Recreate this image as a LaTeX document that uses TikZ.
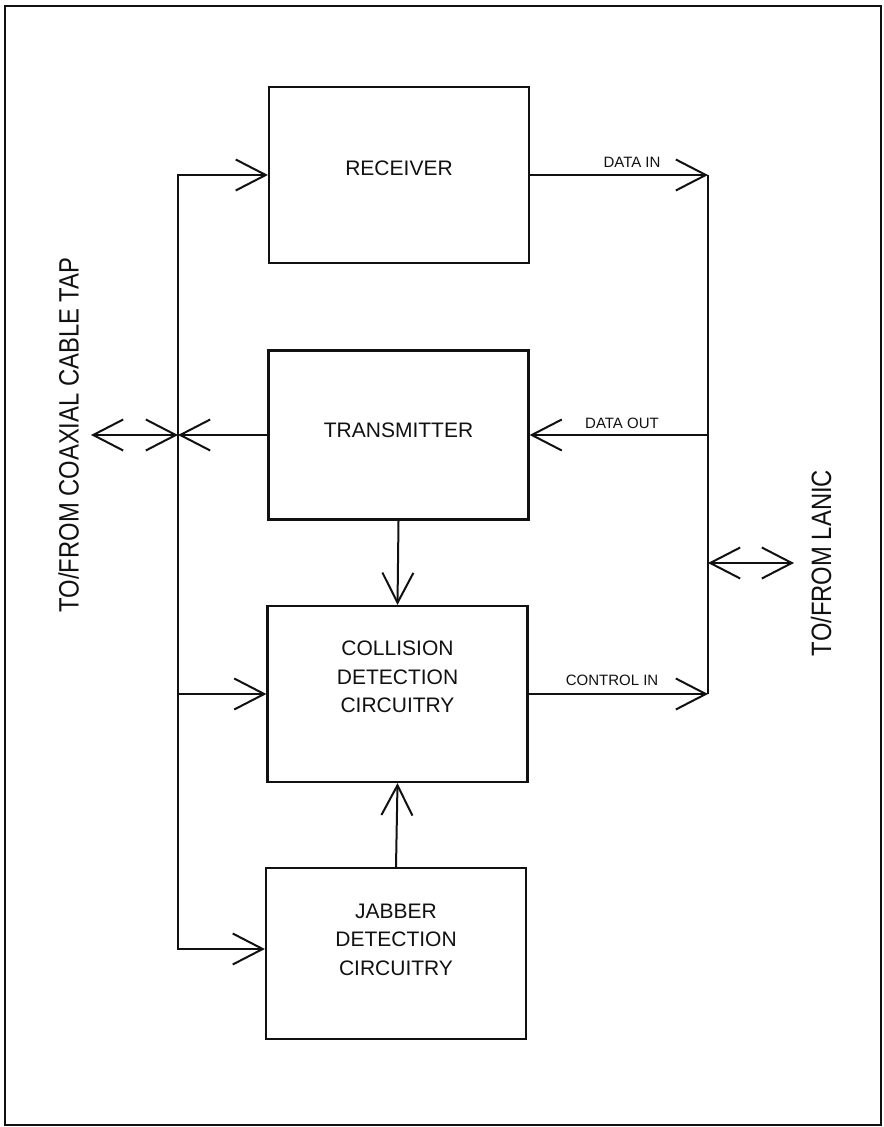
\documentclass[tikz,border=0pt]{standalone}
\usepackage{fontspec}
\setmainfont{Liberation Sans}
\newfontfamily\widelabel[FakeStretch=0.85]{Liberation Sans}
\usetikzlibrary{arrows.meta,positioning}
\definecolor{Ink}{HTML}{111111}

\begin{document}
\begin{tikzpicture}[x=0.5pt,y=-0.5pt,line width=1pt,
  unit/.style={draw=Ink,line width=1.1pt,minimum width=130pt,inner sep=0pt},
  unittext/.style={font=\fontsize{10.5}{14.25}\selectfont,align=center,text=Ink},
  sig/.style={font=\fontsize{7.5}{9}\selectfont,text=Ink},
  side/.style={font=\widelabel\fontsize{14}{16}\selectfont,rotate=90,text=Ink},
  arr/.style={draw=Ink,-{Straight Barb[length=15pt,width=15.5pt]}},
  dbl/.style={draw=Ink,{Straight Barb[length=15pt,width=15.5pt]}-{Straight Barb[length=15pt,width=15.5pt]}}]
\useasboundingbox (0,0) rectangle (883,1127);
\draw[Ink] (4.5,6) rectangle (881,1125);
% functional blocks
\node[unit,minimum height=88pt,label={[unittext,yshift=3.5pt]center:RECEIVER}] (rx) at (399,175) {};
\node[unit,minimum height=84.5pt,label={[unittext,yshift=2.5pt]center:TRANSMITTER}] (tx) at (398.5,435) {};
\node[unit,minimum height=88pt,label={[unittext,yshift=8.5pt]center:{COLLISION\\DETECTION\\CIRCUITRY}}] (cd) at (397.5,694) {};
\node[unit,minimum height=85.5pt,label={[unittext,yshift=7pt]center:{JABBER\\DETECTION\\CIRCUITRY}}] (jd) at (396,953.5) {};
% bus corners and outer ends
\coordinate (lt) at (178,175);
\coordinate (lb) at (178,949);
\coordinate (rt) at (708,175);
\coordinate (rb) at (708,694);
\coordinate (coax) at (91,435);
\coordinate (lanic) at (794,563);
% coax side
\draw[arr] (lb) -- (lt) -- (rx.west);
\draw[arr] (lt) -- (lb) -- (lb -| jd.west);
\draw[arr] (tx.west) -- (tx.west -| lt);
\draw[dbl] (coax) -- (coax -| lt);
\draw[arr] (cd.west -| lt) -- (cd.west);
\draw[arr] (tx.south) -- (cd.north);
\draw[arr] (jd.north) -- (cd.south);
% LANIC side
\draw[Ink] (rt) -- (rb);
\draw[arr] (rx.east) -- (rt);
\draw[arr] (tx.east -| rt) -- (tx.east);
\draw[arr] (cd.east) -- (rb);
\draw[dbl] (lanic -| rt) -- (lanic);
\node[sig] (datain) at (632,162) {DATA IN};
\node[sig] (dataout) at (622,423) {DATA OUT};
\node[sig] (ctrlin) at (612,680) {CONTROL IN};
\node[side] (coaxlbl) at (68.5,435) {TO/FROM COAXIAL CABLE TAP};
\node[side] (lanlbl) at (821,563) {TO/FROM LANIC};
\end{tikzpicture}
\end{document}
